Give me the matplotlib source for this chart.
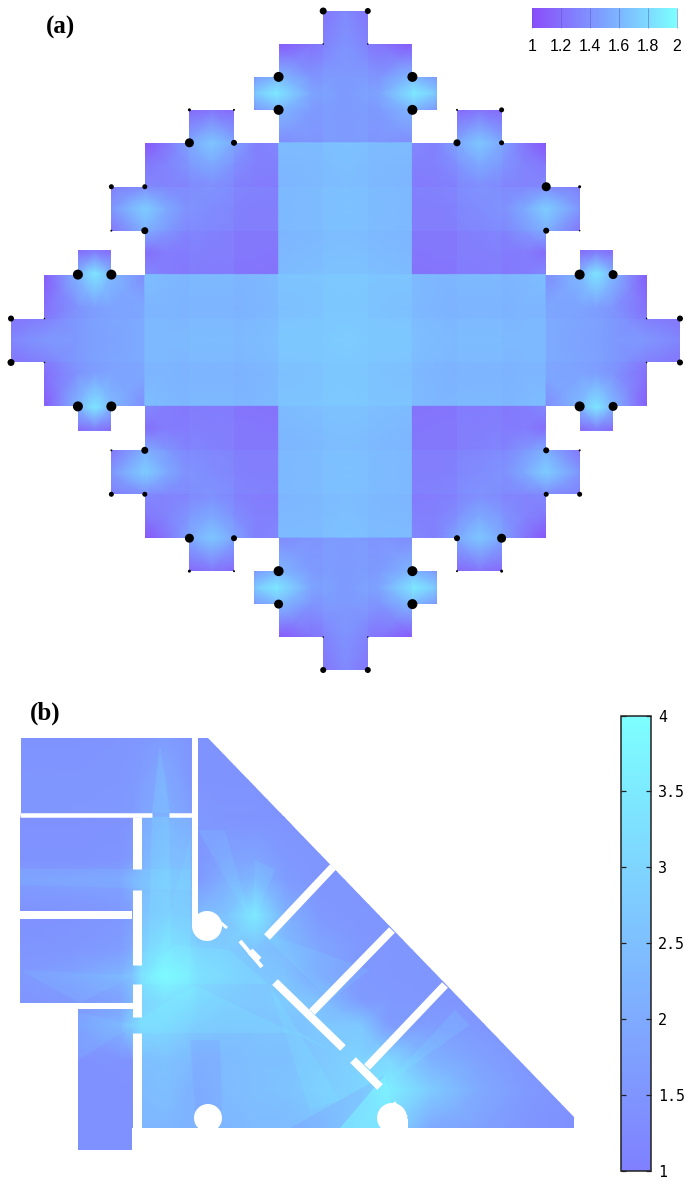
import numpy as np
import matplotlib
matplotlib.use("Agg")
import matplotlib.pyplot as plt
from matplotlib.colors import LinearSegmentedColormap, Normalize
from matplotlib.cm import ScalarMappable
from matplotlib.patches import Circle, Polygon
from matplotlib.path import Path

# ---------- panel (a): upper-left quadrant of the field, in grid units ----------
a_nodes = [0, 3, 6, 7.5, 9, 12, 12.01, 14, 16, 18, 20, 22, 24, 24.01, 27, 30]
_ = 1.2
a_row_0    = [_,_,_,_,_,_,_,_,_,_,_,_, 1.10,1.10,1.15,1.32]
a_row_3    = [_,_,_,_,_,_,_,_,_,_,_,_, 1.10,1.08,1.22,1.38]
a_row_6    = [_,_,_,_,_,_,_,_,_,_,_,1.45,1.62,1.62,1.42,1.42]
a_row_7h   = [_,_,_,_,_,_,_,_,_,_,_,1.72,1.90,1.85,1.50,1.42]
a_row_9    = [_,_,_,_,_,_,_,_,1.12,1.20,1.12,1.45,1.60,1.60,1.45,1.42]
a_row_12   = [_,_,_,_,_,1.05,1.05,1.25,1.50,1.68,1.50,1.30,1.35,1.38,1.42,1.42]
a_row_12b  = [_,_,_,_,_,1.05,1.05,1.25,1.50,1.68,1.50,1.30,1.35,1.63,1.63,1.65]
a_row_14   = [_,_,_,_,_,1.25,1.25,1.32,1.42,1.50,1.38,1.30,1.30,1.61,1.62,1.64]
a_row_16   = [_,_,_,_,1.25,1.35,1.35,1.32,1.32,1.35,1.30,1.28,1.27,1.60,1.61,1.63]
a_row_18   = [_,_,_,_,1.40,1.72,1.72,1.50,1.35,1.30,1.27,1.25,1.25,1.60,1.61,1.63]
a_row_20   = [_,_,_,_,1.20,1.55,1.55,1.42,1.30,1.27,1.25,1.25,1.25,1.60,1.61,1.63]
a_row_22   = [_,_,1.20,1.30,1.20,1.20,1.20,1.28,1.27,1.25,1.25,1.25,1.24,1.61,1.63,1.64]
a_row_24   = [_,1.10,1.60,1.90,1.60,1.35,1.35,1.28,1.25,1.24,1.24,1.23,1.22,1.63,1.65,1.66]
a_row_24b  = [_,1.10,1.60,1.85,1.62,1.38,1.65,1.62,1.60,1.60,1.60,1.61,1.63,1.68,1.68,1.70]
a_row_27   = [1.15,1.20,1.42,1.48,1.50,1.52,1.60,1.60,1.58,1.58,1.58,1.60,1.62,1.66,1.67,1.68]
a_row_30   = [1.30,1.40,1.42,1.45,1.48,1.52,1.60,1.60,1.60,1.60,1.60,1.62,1.64,1.68,1.68,1.70]
a_rows = [a_row_0, a_row_3, a_row_6, a_row_7h, a_row_9, a_row_12, a_row_12b, a_row_14,
          a_row_16, a_row_18, a_row_20, a_row_22, a_row_24, a_row_24b, a_row_27, a_row_30]
# outline of the upper-left quadrant
a_out_x = [30, 28, 28, 24, 24, 21.75, 21.75, 24, 24, 20, 20, 16, 16, 12, 12, 9, 9, 12, 12, 9, 9, 6, 6, 3, 3, 0, 0]
a_out_y = [0, 0, 3, 3, 6, 6, 9, 9, 12, 12, 9, 9, 12, 12, 16, 16, 20, 20, 24, 24, 21.75, 21.75, 24, 24, 28, 28, 30]
# faint stripes of the block pattern (start, end)
a_band_0 = [16, 28, 40]
a_band_1 = [20, 32, 44]
# terminals: x, y, diameter (px)
a_dot_x = [28, 24, 24, 16, 20, 16, 20, 9, 12, 12, 9, 6, 9, 0, 3, 28,
           32, 36, 36, 40, 44, 40, 44, 48, 51, 48, 51, 51, 54, 60, 57, 32,
           0, 3, 6, 9, 9, 12, 9, 12, 16, 20, 16, 20, 24, 24, 28, 28,
           32, 36, 36, 40, 44, 40, 44, 48, 51, 48, 51, 51, 54, 60, 57, 32]
a_dot_y = [0, 6, 9, 9, 9, 12, 12, 16, 16, 20, 20, 24, 24, 28, 28, 3,
           0, 6, 9, 9, 9, 12, 12, 16, 16, 20, 20, 24, 24, 28, 28, 3,
           32, 32, 36, 36, 40, 40, 44, 44, 48, 48, 51, 51, 51, 54, 60, 57,
           60, 51, 54, 48, 48, 51, 51, 40, 40, 44, 44, 36, 36, 32, 32, 57]
a_dot_d = [7, 10, 10, 3, 2, 9, 6, 5, 5, 7, 2, 10, 10, 6, 1.5, 1.5,
           6, 10, 10, 2, 5, 7, 5, 9, 3, 6, 1.5, 10, 9, 6, 1.5, 1.5,
           7, 1.5, 10, 10, 2, 7, 5, 5, 9, 6, 3, 2, 10, 9, 6, 1.5,
           6, 10, 10, 6, 9, 2, 3, 6, 2, 5, 5, 10, 9, 6, 1.5, 1.5]
a_ticks = [1, 1.2, 1.4, 1.6, 1.8, 2]
a_ticklabels = ["1", "1.2", "1.4", "1.6", "1.8", "2"]

# ---------- panel (b): field on an irregular grid ----------
b_x = [20, 70, 120, 132, 141, 165, 190, 198, 225, 255, 285, 320, 360, 390, 430, 480, 530, 575]
b_y = [738, 780, 813, 817, 860, 880, 915, 950, 975, 1000, 1025, 1060, 1090, 1128, 1150]
b_field = [
 [1.45,1.45,1.50,1.55,1.55,1.70,1.50,1.45,1.45,1.45,1.45,1.45,1.45,1.45,1.45,1.45,1.45,1.45],
 [1.50,1.50,1.55,1.60,1.70,2.00,1.60,1.45,1.45,1.45,1.45,1.45,1.45,1.45,1.45,1.45,1.45,1.45],
 [1.50,1.55,1.60,1.65,1.85,2.10,1.75,1.60,1.50,1.50,1.45,1.45,1.45,1.45,1.45,1.45,1.45,1.45],
 [1.40,1.40,1.45,1.50,2.00,2.30,2.10,1.60,1.50,1.45,1.45,1.45,1.45,1.45,1.45,1.45,1.45,1.45],
 [1.45,1.45,1.50,1.70,2.20,2.50,2.40,1.55,1.80,1.90,1.60,1.50,1.45,1.45,1.45,1.45,1.45,1.45],
 [1.70,1.75,1.85,2.20,2.40,2.70,2.50,1.60,2.10,2.30,1.70,1.50,1.50,1.45,1.45,1.45,1.45,1.45],
 [1.40,1.45,1.55,1.70,2.60,2.80,2.70,2.40,2.60,3.50,2.20,1.60,1.50,1.50,1.50,1.45,1.45,1.45],
 [1.50,1.55,1.70,2.00,2.90,3.30,3.10,2.90,2.80,2.60,2.40,1.90,1.60,1.55,1.50,1.45,1.45,1.45],
 [1.60,1.80,2.20,2.60,3.30,3.90,3.50,3.20,3.00,2.70,2.60,1.90,1.60,1.55,1.50,1.50,1.45,1.45],
 [1.50,1.60,1.80,2.30,3.00,3.30,3.20,3.00,2.80,2.70,2.80,2.50,1.65,1.60,1.55,1.50,1.45,1.45],
 [1.50,1.60,2.20,2.90,3.10,3.10,2.80,2.70,2.60,2.60,2.60,2.70,2.70,1.65,1.70,1.55,1.45,1.45],
 [1.45,1.40,1.45,1.50,2.50,2.60,2.40,2.30,2.40,2.50,2.50,2.70,3.00,3.10,2.20,1.80,1.50,1.45],
 [1.40,1.40,1.40,1.40,2.40,2.50,2.20,2.20,2.40,2.50,2.60,2.80,3.00,3.60,2.80,2.00,1.60,1.40],
 [1.40,1.40,1.40,1.40,2.30,2.30,2.20,2.20,2.30,2.40,2.40,2.60,3.10,3.10,2.00,1.80,1.50,1.40],
 [1.40,1.40,1.40,1.40,2.30,2.30,2.20,2.20,2.30,2.40,2.40,2.60,3.10,3.10,2.00,1.80,1.50,1.40],
]
b_out_x = [21, 208, 574, 574, 132, 132, 78, 78, 132, 132, 20, 20, 21]
b_out_y = [738, 738, 1117, 1128, 1128, 1150, 1150, 1009, 1009, 1003, 1003, 817, 813]
# walls: x0, y0, x1, y1, width (px)
b_wall_x0 = [20, 169, 136.5, 136.5, 136.5, 136.5, 20, 20, 195, 333, 392, 445, 275, 353, 240, 215, 393, 399.5, 250]
b_wall_y0 = [815, 815, 817, 890, 984, 1033, 915, 1006, 738, 867, 930, 985, 982, 1060, 941, 918, 1103, 1118, 951]
b_wall_x1 = [152, 192, 136.5, 136.5, 136.5, 136.5, 132, 135, 195, 267, 312, 367, 343, 380, 262, 227, 406, 399.5, 259]
b_wall_y1 = [815, 815, 869, 965, 1017, 1128, 915, 1006, 925, 937, 1012, 1067, 1048, 1087, 967, 928, 1118, 1128, 960]
b_wall_w = [4.5, 4.5, 9, 9, 9, 9, 8, 6, 6, 8, 8, 8, 8, 8, 4, 3, 5, 15, 7]
# pillars: x, y, radius (px)
b_pil_x = [207, 208, 392]
b_pil_y = [926, 1118, 1118]
b_pil_r = [15, 14, 15]
# light and dark rays of the field: corners and strength
b_light_rays = [
    ([160, 152, 170], [745, 813, 813], 0.14),
    ([152, 169, 172, 148], [817, 817, 960, 960], 0.12),
    ([191, 150, 190], [835, 985, 985], 0.10),
    ([20, 191, 191, 20], [869, 869, 890, 885], 0.08),
    ([252, 198, 225], [925, 830, 830], 0.10),
    ([252, 255, 275], [925, 860, 870], 0.10),
    ([258, 370, 330], [930, 970, 1000], 0.10),
    ([138, 195, 345, 300, 138], [1020, 985, 1058, 1033, 1033], 0.14),
    ([141, 268, 230, 175], [984, 984, 950, 945], 0.15),
    ([268, 310, 340], [982, 1110, 1100], 0.12),
    ([385, 340, 395], [1075, 1128, 1128], 0.28),
    ([385, 455, 470], [1085, 1010, 1025], 0.12),
    ([135, 78, 78], [1025, 1012, 1060], 0.08),
    ([135, 20, 80], [975, 970, 1003], 0.08),
]
b_dark_rays = [
    ([190, 220, 222, 195], [1040, 1040, 1110, 1110], 0.14),
    ([385, 290, 340], [1075, 1128, 1128], 0.18),
]
b_ticks = [1, 1.5, 2, 2.5, 3, 3.5, 4]
b_ticklabels = ["1", "1.5", "2", "2.5", "3", "3.5", "4"]

W, H = 685, 1180
fig = plt.figure(figsize=(W / 100, H / 100), dpi=100, facecolor="white")


def px_axes(x0, y0, x1, y1):
    return fig.add_axes([x0 / W, 1 - y1 / H, (x1 - x0) / W, (y1 - y0) / H])


cmap_a = LinearSegmentedColormap.from_list("a", [(0.54, 0.30, 0.98), (0.49, 0.64, 1.0), (0.49, 1.0, 1.0)])
cmap_b = LinearSegmentedColormap.from_list("b", [(0.50, 0.50, 1.0), (0.49, 1.0, 1.0)])

# panel (a)
axa = px_axes(11, 11, 680, 670)
axa.set_xlim(0, 60)
axa.set_ylim(60, 0)
axa.axis("off")
q = np.array(a_rows)
nodes = np.array(a_nodes)
full_nodes = np.concatenate([nodes, 60 - nodes[::-1]])
full = np.block([[q, q[:, ::-1]], [q[::-1, :], q[::-1, ::-1]]])
mesh_a = axa.pcolormesh(full_nodes, full_nodes, full, shading="gouraud", cmap=cmap_a, vmin=1, vmax=2)
ox, oy = np.array(a_out_x, float), np.array(a_out_y, float)
px = np.concatenate([ox, ox[::-1][1:], (60 - ox)[1:], (60 - ox)[::-1][1:]])
py = np.concatenate([oy, (60 - oy)[::-1][1:], (60 - oy)[1:], oy[::-1][1:]])
poly_a = Path(np.column_stack([px, py]), closed=False)
mesh_a.set_clip_path(poly_a, axa.transData)
for s0, s1 in zip(a_band_0, a_band_1):
    for art in (axa.axvspan(s0, s1, color=(0.49, 1, 1), alpha=0.05, lw=0, zorder=2),
                axa.axhspan(s0, s1, color=(0.49, 1, 1), alpha=0.05, lw=0, zorder=2)):
        art.set_clip_path(poly_a, axa.transData)
axa.scatter(a_dot_x, a_dot_y, s=(np.array(a_dot_d) * 0.72) ** 2, c="black", linewidths=0, zorder=4, clip_on=False)

# colour key (a)
cax_a = px_axes(532, 8, 677, 28)
cb_a = fig.colorbar(ScalarMappable(Normalize(1, 2), cmap_a), cax=cax_a, orientation="horizontal")
cb_a.set_ticks(a_ticks, labels=a_ticklabels)
cb_a.outline.set_visible(False)
cax_a.tick_params(axis="x", direction="in", length=14.4, width=0.6, color=(0.35, 0.35, 0.75, 0.6),
                  labelsize=11.5, pad=8)
for t in cax_a.get_xticklabels():
    t.set_fontfamily("Liberation Sans")

# panel (b)
axb = px_axes(20, 738, 575, 1150)
axb.set_xlim(20, 575)
axb.set_ylim(1150, 738)
axb.axis("off")
mesh_b = axb.pcolormesh(b_x, b_y, np.array(b_field), shading="gouraud", cmap=cmap_b, vmin=1, vmax=4)
poly_b = Path(np.column_stack([b_out_x + b_out_x[:1], b_out_y + b_out_y[:1]]), closed=True)
mesh_b.set_clip_path(poly_b, axb.transData)
for rays, colour in ((b_light_rays, (0.49, 1, 1)), (b_dark_rays, (0.5, 0.5, 1))):
    for xs, ys, strength in rays:
        p = Polygon(np.column_stack([xs, ys]), closed=True, facecolor=colour, alpha=strength, lw=0, zorder=2)
        axb.add_patch(p)
        p.set_clip_path(poly_b, axb.transData)
for x0, y0, x1, y1, w in zip(b_wall_x0, b_wall_y0, b_wall_x1, b_wall_y1, b_wall_w):
    axb.plot([x0, x1], [y0, y1], color="white", lw=w * 0.72, solid_capstyle="butt", zorder=3)
for x, y, r in zip(b_pil_x, b_pil_y, b_pil_r):
    axb.add_patch(Circle((x, y), r, color="white", lw=0, zorder=3))

# colour bar (b)
cax_b = px_axes(620.5, 715.5, 651, 1171)
cb_b = fig.colorbar(ScalarMappable(Normalize(1, 4), cmap_b), cax=cax_b, orientation="vertical")
cb_b.set_ticks(b_ticks, labels=b_ticklabels)
cb_b.outline.set_linewidth(1.1)
cb_b.outline.set_edgecolor("#222222")
cax_b.tick_params(axis="y", left=True, right=True, direction="in", length=3.6, width=0.9,
                  color="#222222", labelsize=10.8, pad=5)
for t in cax_b.get_yticklabels():
    t.set_fontfamily("DejaVu Sans Mono")

# panel letters
fig.text(46 / W, 1 - 27 / H, "(a)", fontfamily="Liberation Serif", fontweight="bold", fontsize=18,
         ha="left", va="center")
fig.text(30 / W, 1 - 713 / H, "(b)", fontfamily="Liberation Serif", fontweight="bold", fontsize=18,
         ha="left", va="center")

fig.savefig("out.png", dpi=100)
